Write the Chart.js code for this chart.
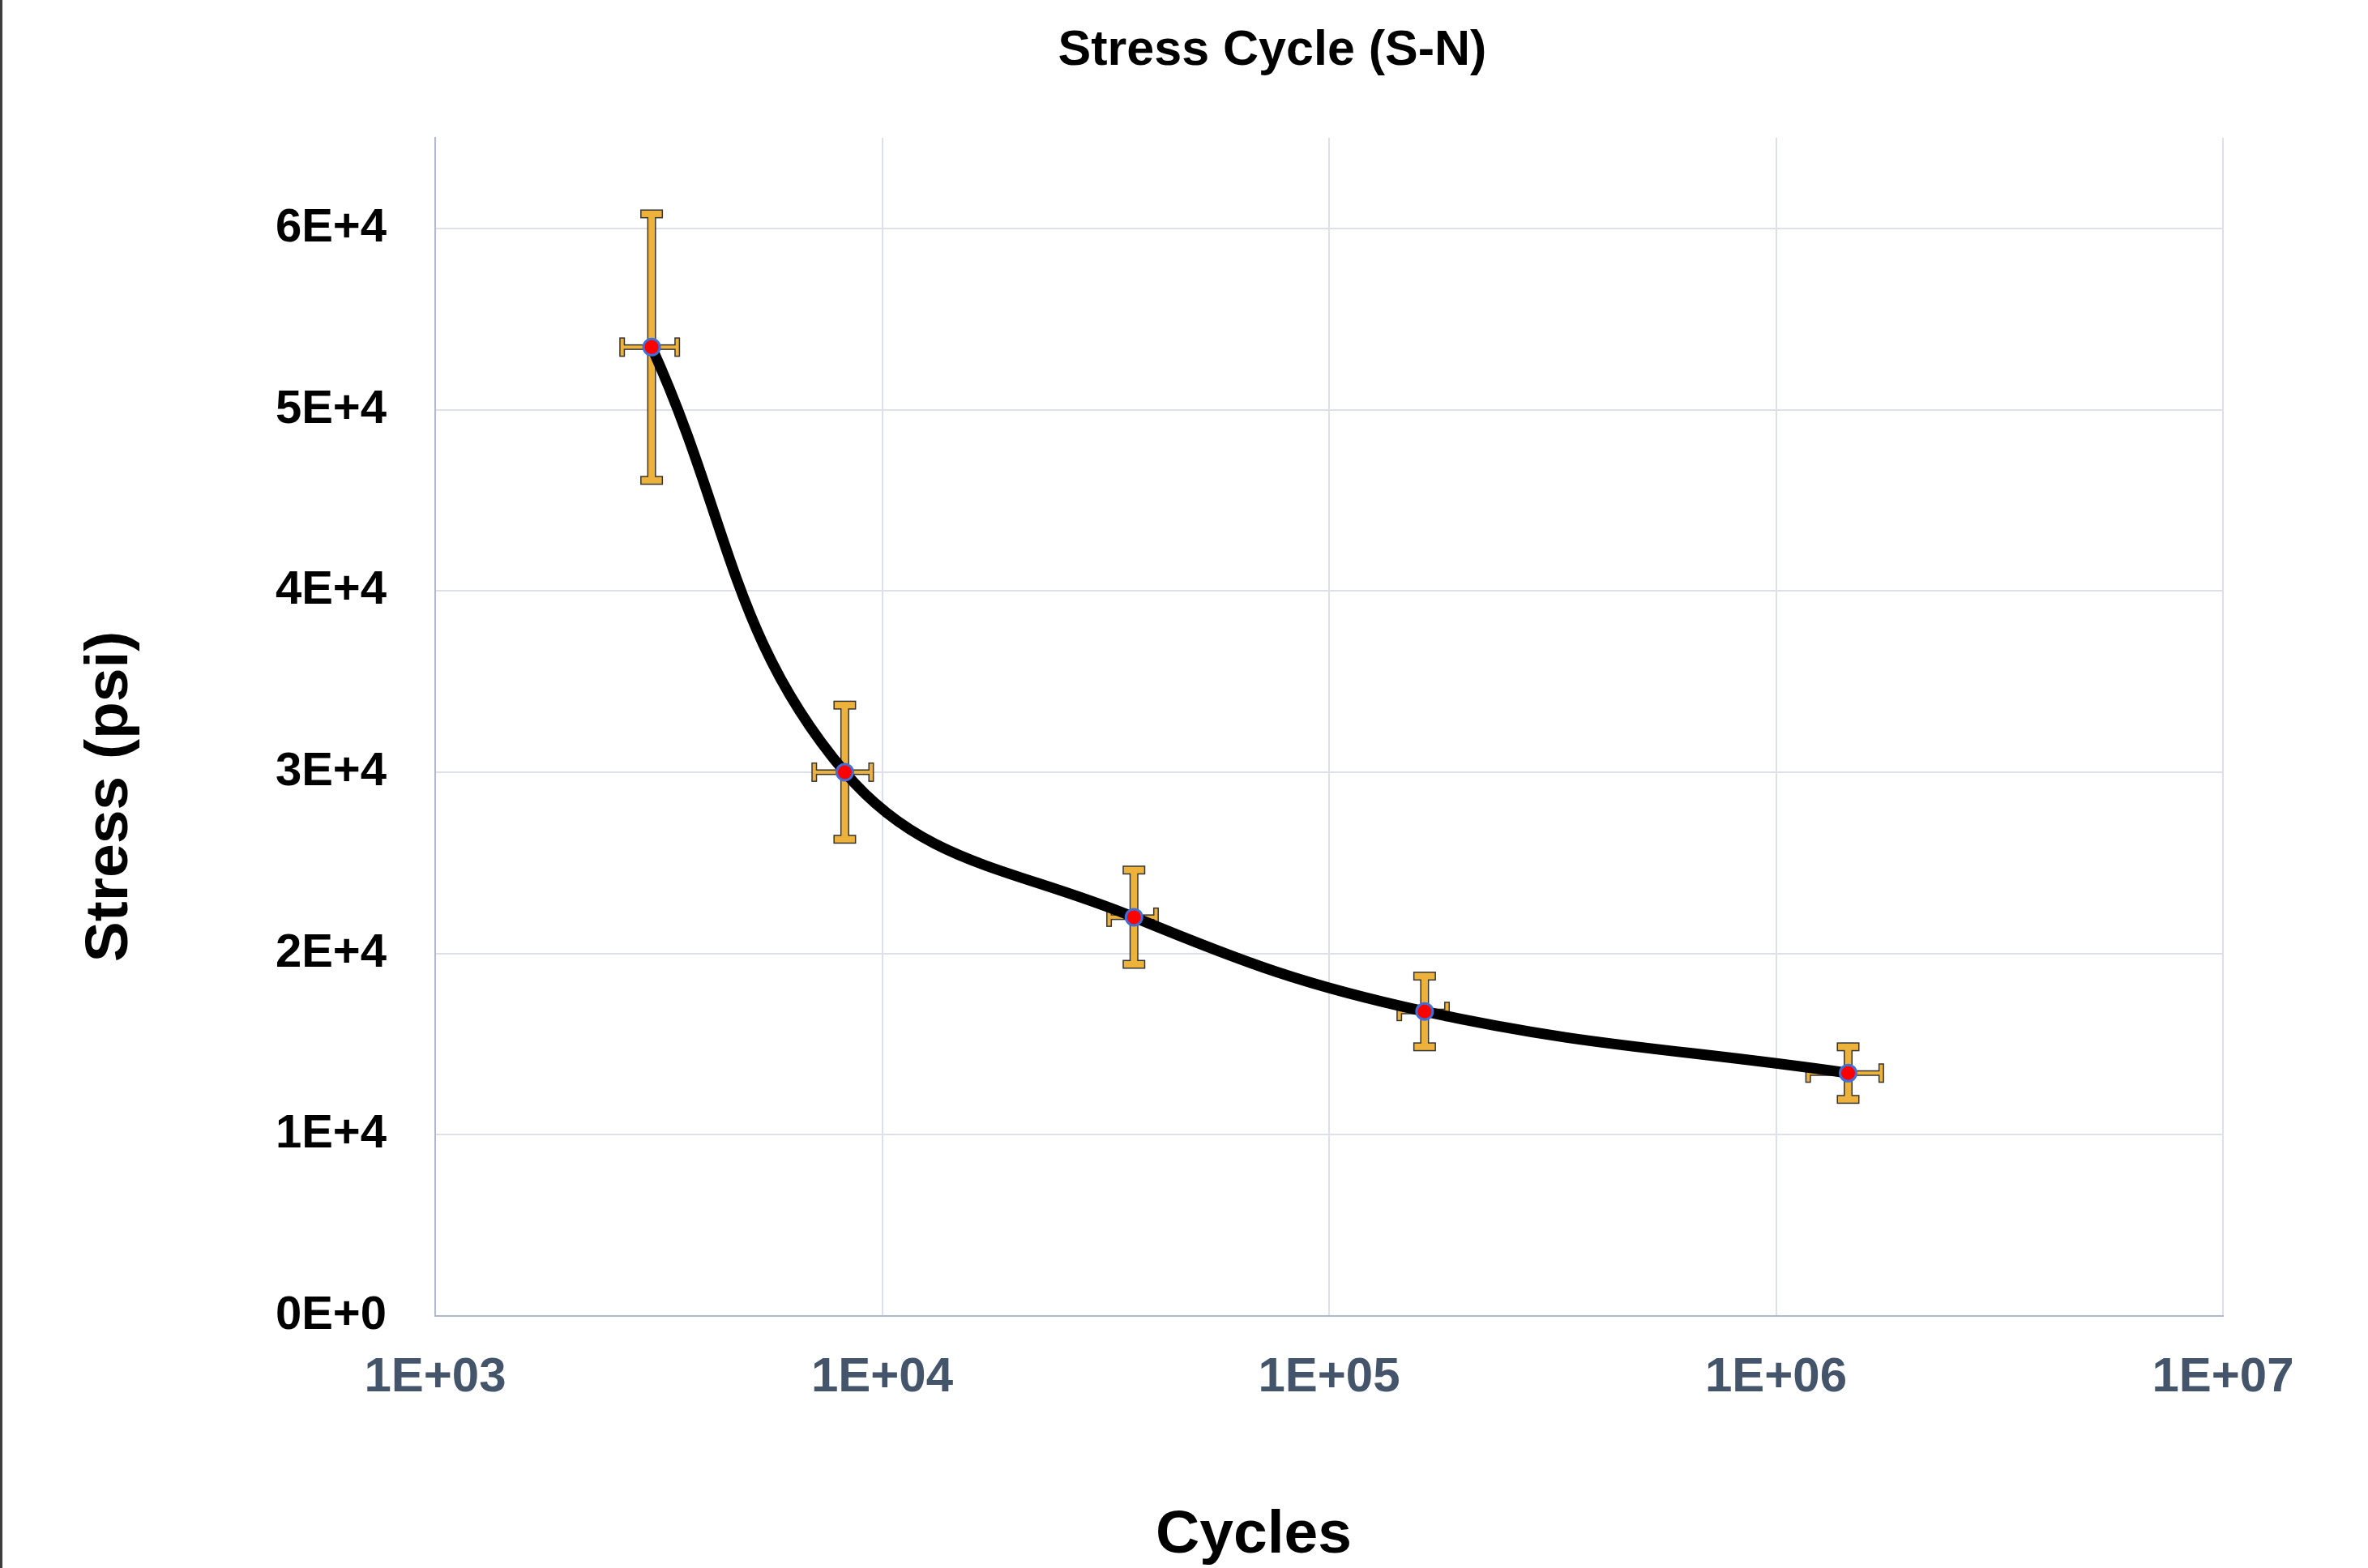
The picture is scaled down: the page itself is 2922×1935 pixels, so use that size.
<!DOCTYPE html>
<html>
<head>
<meta charset="utf-8">
<title>Stress Cycle (S-N)</title>
<script src="https://cdn.jsdelivr.net/npm/chart.js@4.4.1/dist/chart.umd.min.js"></script>
<style>
  html, body { margin: 0; padding: 0; background: #ffffff; }
  #wrap { position: relative; width: 2922px; height: 1935px; }
  #edge { position: absolute; left: 0; top: 0; width: 3px; height: 1935px; background: #3d3d3d; }
  canvas { display: block; }
</style>
</head>
<body>
<div id="wrap">
  <canvas id="sn" width="2922" height="1935"></canvas>
  <div id="edge"></div>
</div>
<script>
// Fatigue test results: cycles to failure vs. stress amplitude
const cycles    = [3050, 8250, 36600, 163600, 1450000];
const stress    = [53450, 30000, 22000, 16800, 13400];
const cyclesErr = [430, 1200, 4400, 20000, 270000];
const stressErr = [7350, 3700, 2600, 1950, 1450];

const xTickValues = [1e3, 1e4, 1e5, 1e6, 1e7];
const xTickLabels = ['1E+03', '1E+04', '1E+05', '1E+06', '1E+07'];
const yTickValues = [0, 10000, 20000, 30000, 40000, 50000, 60000];
const yTickLabels = ['0E+0', '1E+4', '2E+4', '3E+4', '4E+4', '5E+4', '6E+4'];

const chartTitle = 'Stress Cycle (S-N)';
const xTitle = 'Cycles';
const yTitle = 'Stress (psi)';

const FONT = '"Liberation Sans", Arial, sans-serif';

// Gold error bars with a dark outline, drawn beneath the curve and markers
const errorBars = {
  id: 'errorBars',
  beforeDatasetsDraw(chart) {
    const { ctx, scales: { x, y } } = chart;
    const rects = [];
    cycles.forEach((c, i) => {
      const px = x.getPixelForValue(c);
      const py = y.getPixelForValue(stress[i]);
      const top = y.getPixelForValue(stress[i] + stressErr[i]);
      const bot = y.getPixelForValue(stress[i] - stressErr[i]);
      const left = x.getPixelForValue(c - cyclesErr[i]);
      const right = x.getPixelForValue(c + cyclesErr[i]);
      // vertical (stress) bar and caps
      const vw = 8, capW = 25, capH = 8;
      rects.push([px - vw / 2, top, vw, bot - top]);
      rects.push([px - capW / 2, top - capH / 2, capW, capH]);
      rects.push([px - capW / 2, bot - capH / 2, capW, capH]);
      // horizontal (cycles) bar and caps
      const hw = 4, hCapW = 4, hCapH = 21;
      rects.push([left, py - hw / 2, right - left, hw]);
      rects.push([left - hCapW / 2, py - hCapH / 2, hCapW, hCapH]);
      rects.push([right - hCapW / 2, py - hCapH / 2, hCapW, hCapH]);
    });
    ctx.save();
    ctx.strokeStyle = '#353535';
    ctx.lineWidth = 3;
    ctx.lineJoin = 'miter';
    rects.forEach(r => ctx.strokeRect(r[0], r[1], r[2], r[3]));
    ctx.fillStyle = '#EDB23C';
    rects.forEach(r => ctx.fillRect(r[0], r[1], r[2], r[3]));
    ctx.restore();
  }
};

// Chart and axis titles
const captions = {
  id: 'captions',
  afterDraw(chart) {
    const { ctx } = chart;
    ctx.save();
    ctx.fillStyle = '#000000';
    ctx.textAlign = 'center';
    ctx.textBaseline = 'middle';
    ctx.font = 'bold 61px ' + FONT;
    ctx.fillText(chartTitle, 1570, 63);
    ctx.font = 'bold 75px ' + FONT;
    ctx.fillText(xTitle, 1547, 1895);
    ctx.translate(136, 983);
    ctx.rotate(-Math.PI / 2);
    ctx.fillText(yTitle, 0, 0);
    ctx.restore();
  }
};

new Chart(document.getElementById('sn'), {
  type: 'line',
  data: {
    datasets: [{
      data: cycles.map((c, i) => ({ x: c, y: stress[i] })),
      borderColor: '#000000',
      borderWidth: 13,
      tension: 0.4,
      fill: false,
      pointRadius: 10,
      pointBackgroundColor: '#FF0000',
      pointBorderColor: '#3F6FD8',
      pointBorderWidth: 3
    }]
  },
  options: {
    responsive: false,
    devicePixelRatio: 1,
    animation: false,
    events: [],
    layout: { padding: { top: 170, right: 179, left: 0, bottom: 0 } },
    plugins: {
      legend: { display: false },
      title: { display: false },
      tooltip: { enabled: false }
    },
    scales: {
      x: {
        type: 'logarithmic',
        min: 1000,
        max: 1e7,
        afterBuildTicks: s => { s.ticks = xTickValues.map(v => ({ value: v })); },
        afterFit: s => { s.height = 311; },
        ticks: {
          callback: (v, i) => xTickLabels[i],
          autoSkip: false,
          maxRotation: 0,
          padding: 40,
          color: '#44546A',
          font: { family: FONT, size: 60, weight: 'bold' }
        },
        grid: { color: '#DDE0EA', lineWidth: 2, drawTicks: false },
        border: { color: '#AEB8D2', width: 2 }
      },
      y: {
        type: 'linear',
        min: 0,
        max: 65000,
        afterBuildTicks: s => { s.ticks = yTickValues.map(v => ({ value: v })); },
        afterFit: s => { s.width = 537; },
        ticks: {
          callback: (v, i) => yTickLabels[i],
          autoSkip: false,
          padding: 60,
          color: '#000000',
          font: { family: FONT, size: 58, weight: 'bold' }
        },
        grid: { color: '#DDE0EA', lineWidth: 2, drawTicks: false },
        border: { color: '#AEB8D2', width: 2 }
      }
    }
  },
  plugins: [errorBars, captions]
});
</script>
</body>
</html>
